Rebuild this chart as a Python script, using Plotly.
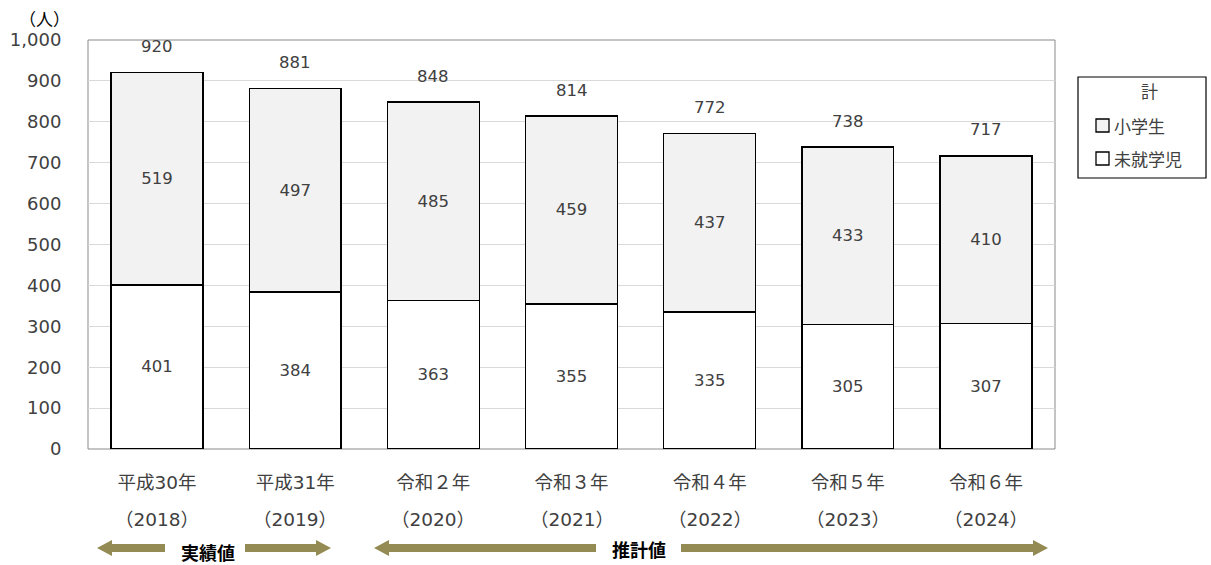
import plotly.graph_objects as go

categories = ["平成30年", "平成31年", "令和２年", "令和３年", "令和４年", "令和５年", "令和６年"]
years = ["（2018）", "（2019）", "（2020）", "（2021）", "（2022）", "（2023）", "（2024）"]
preschool = [401, 384, 363, 355, 335, 305, 307]      # 未就学児
elementary = [519, 497, 485, 459, 437, 433, 410]     # 小学生
totals = [920, 881, 848, 814, 772, 738, 717]         # 計
y_ticks = [0, 100, 200, 300, 400, 500, 600, 700, 800, 900, 1000]

NUMFONT = "DejaVu Sans"
JPFONT = "Noto Sans CJK JP"
MIXFONT = "DejaVu Sans, Noto Sans CJK JP"
TXT = "#404040"
FS = 17
XFS = 18.5
W, H = 1211, 565
L, R, T, B = 88, 1055, 40, 449


def px(x):
    return (x - L) / (R - L)


def py(y):
    return (B - y) / (B - T)


fig = go.Figure()
fig.add_trace(go.Bar(
    x=categories, y=preschool, name="未就学児",
    marker=dict(color="#FFFFFF", line=dict(color="#000000", width=1.5)),
    text=[str(v) for v in preschool], textposition="inside", insidetextanchor="middle",
    textfont=dict(size=16.5, color=TXT, family=NUMFONT), constraintext="none",
    width=0.665, showlegend=False,
))
fig.add_trace(go.Bar(
    x=categories, y=elementary, name="小学生",
    marker=dict(color="#F2F2F2", line=dict(color="#000000", width=1.5)),
    text=[str(v) for v in elementary], textposition="inside", insidetextanchor="middle",
    textfont=dict(size=16.5, color=TXT, family=NUMFONT), constraintext="none",
    width=0.665, showlegend=False,
))

annotations = []
for c, t in zip(categories, totals):
    annotations.append(dict(x=c, y=t, xref="x", yref="y", text=str(t), showarrow=False,
                            yshift=26, yanchor="middle",
                            font=dict(size=16.5, color=TXT, family=NUMFONT)))
for c, yr in zip(categories, years):
    annotations.append(dict(x=c, y=py(519), xref="x", yref="paper", text=yr, showarrow=False,
                            yanchor="middle", font=dict(size=XFS, color=TXT, family=MIXFONT)))


def note(x, y, text, color=TXT, xanchor="center", size=FS):
    annotations.append(dict(x=px(x), y=py(y), xref="paper", yref="paper", text=text,
                            xanchor=xanchor, yanchor="middle", showarrow=False,
                            font=dict(size=size, color=color, family=JPFONT)))


note(44, 18, "（人）", color="#000000")
note(208, 552, "<b>実績値</b>", color="#000000", size=18)
note(639, 549, "<b>推計値</b>", color="#000000", size=18)
note(1149, 90, "計")
note(1112, 125, "小学生", xanchor="left")
note(1112, 158, "未就学児", xanchor="left")

shapes = []
shapes.append(dict(type="rect", xref="paper", yref="paper", x0=0, x1=1, y0=0, y1=1,
                   line=dict(color="#898989", width=1), layer="below"))
shapes.append(dict(type="rect", xref="paper", yref="paper", x0=px(1078), x1=px(1206),
                   y0=py(178), y1=py(77), line=dict(color="#000000", width=1.2)))
shapes.append(dict(type="rect", xref="paper", yref="paper", x0=px(1096), x1=px(1109),
                   y0=py(132), y1=py(119), fillcolor="#F2F2F2", line=dict(color="#000000", width=1.3)))
shapes.append(dict(type="rect", xref="paper", yref="paper", x0=px(1096), x1=px(1109),
                   y0=py(165), y1=py(152), fillcolor="#FFFFFF", line=dict(color="#000000", width=1.3)))

ARROW = "#948A54"


def arrow(x_tail, x_tip, yc):
    d = 1 if x_tip > x_tail else -1
    hw, sh, hl = 8, 4, 15
    xb = x_tip - d * hl
    pts = [(x_tail, yc - sh), (xb, yc - sh), (xb, yc - hw), (x_tip, yc),
           (xb, yc + hw), (xb, yc + sh), (x_tail, yc + sh)]
    path = "M " + " L ".join(f"{px(a):.5f},{py(b):.5f}" for a, b in pts) + " Z"
    return dict(type="path", xref="paper", yref="paper", path=path,
                fillcolor=ARROW, line=dict(color=ARROW, width=0))


shapes += [arrow(165, 97, 548), arrow(245, 331, 548), arrow(596, 374, 548), arrow(681, 1048, 548)]

fig.update_layout(
    barmode="stack",
    width=W, height=H,
    margin=dict(l=L, r=W - R, t=T, b=H - B, autoexpand=False),
    paper_bgcolor="#FFFFFF", plot_bgcolor="#FFFFFF",
    font=dict(family=JPFONT, size=FS, color=TXT),
    showlegend=False,
    annotations=annotations, shapes=shapes,
    xaxis=dict(showgrid=False, showline=False, ticks="outside", ticklen=17,
               tickcolor="rgba(0,0,0,0)", tickfont=dict(size=XFS, color=TXT, family=MIXFONT)),
    yaxis=dict(range=[0, 1000], tickvals=y_ticks, tickformat=",d", showgrid=True,
               gridcolor="#D9D9D9", gridwidth=1, zeroline=False, showline=False,
               ticks="outside", ticklen=22, tickcolor="rgba(0,0,0,0)",
               tickfont=dict(size=18, color=TXT, family=NUMFONT)),
)

fig.write_html("out.html")
